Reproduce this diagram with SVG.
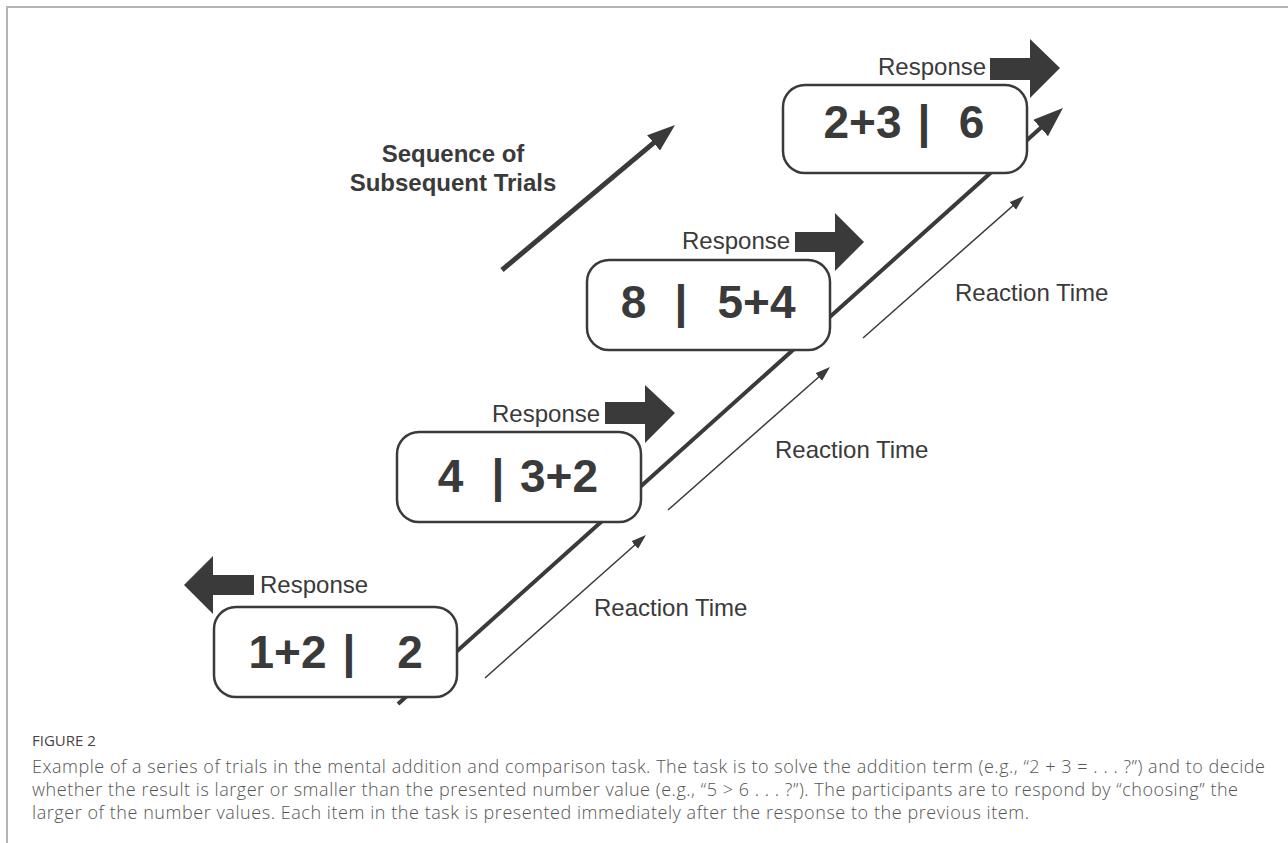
<svg xmlns="http://www.w3.org/2000/svg" width="1288" height="843" viewBox="0 0 1288 843">
<defs>
<style>
.frame{stroke:#b4b4b4;stroke-width:2;fill:none}
.box{fill:#fff;stroke:#3a3a3a;stroke-width:2.5}
.num{font-family:"Liberation Sans",Arial,sans-serif;font-weight:bold;font-size:46px;fill:#3a3a3a;text-anchor:middle}
.lbl{font-family:"Liberation Sans",Arial,sans-serif;font-size:24px;fill:#3a3a3a}
.seq{font-family:"Liberation Sans",Arial,sans-serif;font-weight:bold;font-size:24px;fill:#3a3a3a;text-anchor:middle}
.resp{fill:#3a3a3a}
.main{stroke:#3a3a3a;stroke-width:4;fill:none}
.thin{stroke:#3a3a3a;stroke-width:1.5;fill:none}
.cap{font-family:"Open Sans","Noto Sans",sans-serif;font-size:18px;font-weight:300;fill:#555}
.fig{font-family:"Open Sans","Noto Sans",sans-serif;font-size:15px;fill:#444}
</style>
<marker id="headBig" markerUnits="userSpaceOnUse" markerWidth="32" markerHeight="24" refX="22" refY="11" orient="auto">
<path d="M0,0 L30,11 L0,22 z" fill="#3a3a3a"/>
</marker>
<marker id="headSeq" markerUnits="userSpaceOnUse" markerWidth="30" markerHeight="24" refX="20" refY="10" orient="auto">
<path d="M0,0 L28,10 L0,20 z" fill="#3a3a3a"/>
</marker>
<marker id="headThin" markerUnits="userSpaceOnUse" markerWidth="16" markerHeight="12" refX="11" refY="5" orient="auto">
<path d="M0,0 L15,5 L0,10 z" fill="#3a3a3a"/>
</marker>
</defs>
<rect width="1288" height="843" fill="#fff"/>
<path class="frame" d="M7,843 L7,7 L1288,7"/>

<g id="connectors">
<line class="main" x1="398" y1="704" x2="1057" y2="113.3" marker-end="url(#headBig)"/>
<line class="main" style="stroke-width:5" x1="502" y1="270" x2="668.9" y2="130.1" marker-end="url(#headSeq)"/>
<line class="thin" x1="485" y1="678" x2="643" y2="537.7" marker-end="url(#headThin)"/>
<line class="thin" x1="668" y1="510" x2="827" y2="369.7" marker-end="url(#headThin)"/>
<line class="thin" x1="863" y1="338" x2="1021" y2="198.6" marker-end="url(#headThin)"/>
</g>

<g id="sequence-label">
<text class="seq" x="453" y="162">Sequence of</text>
<text class="seq" x="453" y="191">Subsequent Trials</text>
</g>

<g id="trial1">
<rect class="box" x="214" y="607" width="243" height="90" rx="22"/>
<text class="num" x="287.5" y="668">1+2</text>
<text class="num" x="349" y="668">|</text>
<text class="num" x="410" y="668">2</text>
<text class="lbl" x="260" y="593">Response</text>
<polygon class="resp" points="254,575 213,575 213,556 184,585 213,614 213,595 254,595"/>
</g>

<g id="trial2">
<rect class="box" x="397" y="432" width="244" height="90" rx="22"/>
<text class="num" x="450.5" y="492">4</text>
<text class="num" x="498" y="492">|</text>
<text class="num" x="559" y="492">3+2</text>
<text class="lbl" x="492" y="422">Response</text>
<polygon class="resp" points="605,402 645,402 645,385 675,413 645,443 645,424 605,424"/>
</g>

<g id="trial3">
<rect class="box" x="587" y="260" width="243" height="90" rx="22"/>
<text class="num" x="633.5" y="318">8</text>
<text class="num" x="681" y="318">|</text>
<text class="num" x="756.5" y="318">5+4</text>
<text class="lbl" x="682" y="249">Response</text>
<polygon class="resp" points="795,232 835,232 835,213 864,242 835,271 835,252 795,252"/>
</g>

<g id="trial4">
<rect class="box" x="783" y="85" width="244" height="88" rx="22"/>
<text class="num" x="862.5" y="138">2+3</text>
<text class="num" x="924" y="138">|</text>
<text class="num" x="971.5" y="138">6</text>
<text class="lbl" x="878" y="75">Response</text>
<polygon class="resp" points="990,58 1030,58 1030,39 1060,68 1030,98 1030,80 990,80"/>
</g>

<g id="reaction-labels">
<text class="lbl" x="594" y="616">Reaction Time</text>
<text class="lbl" x="775" y="458">Reaction Time</text>
<text class="lbl" x="955" y="301">Reaction Time</text>
</g>

<g id="caption">
<text class="fig" x="32" y="746">FIGURE 2</text>
<text class="cap" x="32" y="773" textLength="1233" lengthAdjust="spacing">Example of a series of trials in the mental addition and comparison task. The task is to solve the addition term (e.g., “2 + 3 = . . . ?”) and to decide</text>
<text class="cap" x="32" y="796" textLength="1206" lengthAdjust="spacing">whether the result is larger or smaller than the presented number value (e.g., “5 &gt; 6 . . . ?”). The participants are to respond by “choosing” the</text>
<text class="cap" x="32" y="819" textLength="997" lengthAdjust="spacing">larger of the number values. Each item in the task is presented immediately after the response to the previous item.</text>
</g>
</svg>
